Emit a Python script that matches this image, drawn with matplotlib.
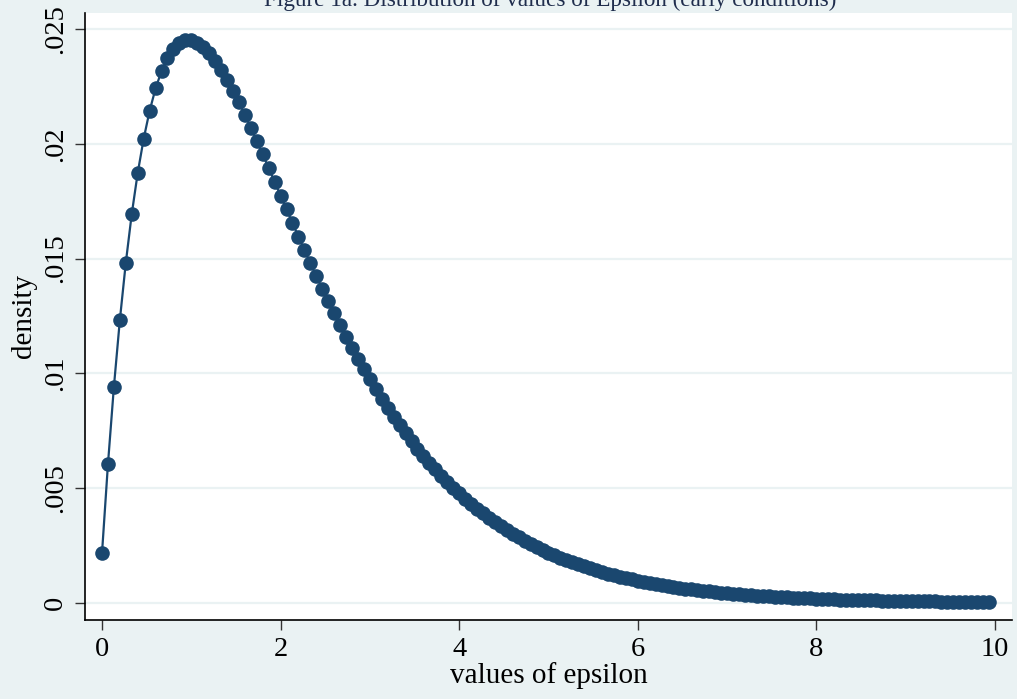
import matplotlib
matplotlib.use("Agg")
import matplotlib.pyplot as plt

# values of epsilon (x) and density (y)
epsilon = [
    0.0, 0.0667, 0.1333, 0.2, 0.2667, 0.3333, 0.4, 0.4667, 0.5333, 0.6,
    0.6667, 0.7333, 0.8, 0.8667, 0.9333, 1.0, 1.0667, 1.1333, 1.2, 1.2667,
    1.3333, 1.4, 1.4667, 1.5333, 1.6, 1.6667, 1.7333, 1.8, 1.8667, 1.9333,
    2.0, 2.0667, 2.1333, 2.2, 2.2667, 2.3333, 2.4, 2.4667, 2.5333, 2.6,
    2.6667, 2.7333, 2.8, 2.8667, 2.9333, 3.0, 3.0667, 3.1333, 3.2, 3.2667,
    3.3333, 3.4, 3.4667, 3.5333, 3.6, 3.6667, 3.7333, 3.8, 3.8667, 3.9333,
    4.0, 4.0667, 4.1333, 4.2, 4.2667, 4.3333, 4.4, 4.4667, 4.5333, 4.6,
    4.6667, 4.7333, 4.8, 4.8667, 4.9333, 5.0, 5.0667, 5.1333, 5.2, 5.2667,
    5.3333, 5.4, 5.4667, 5.5333, 5.6, 5.6667, 5.7333, 5.8, 5.8667, 5.9333,
    6.0, 6.0667, 6.1333, 6.2, 6.2667, 6.3333, 6.4, 6.4667, 6.5333, 6.6,
    6.6667, 6.7333, 6.8, 6.8667, 6.9333, 7.0, 7.0667, 7.1333, 7.2, 7.2667,
    7.3333, 7.4, 7.4667, 7.5333, 7.6, 7.6667, 7.7333, 7.8, 7.8667, 7.9333,
    8.0, 8.0667, 8.1333, 8.2, 8.2667, 8.3333, 8.4, 8.4667, 8.5333, 8.6,
    8.6667, 8.7333, 8.8, 8.8667, 8.9333, 9.0, 9.0667, 9.1333, 9.2, 9.2667,
    9.3333, 9.4, 9.4667, 9.5333, 9.6, 9.6667, 9.7333, 9.8, 9.8667, 9.9333,
]
density = [
    0.002149, 0.006032, 0.009405, 0.012318, 0.014816, 0.016941, 0.018730, 0.020218, 0.021436, 0.022412,
    0.023174, 0.023744, 0.024144, 0.024394, 0.024511, 0.024512, 0.024411, 0.024220, 0.023953, 0.023619,
    0.023229, 0.022791, 0.022313, 0.021802, 0.021264, 0.020704, 0.020128, 0.019541, 0.018945, 0.018345,
    0.017744, 0.017144, 0.016547, 0.015956, 0.015373, 0.014798, 0.014234, 0.013681, 0.013140, 0.012612,
    0.012097, 0.011596, 0.011110, 0.010638, 0.010180, 0.009738, 0.009310, 0.008897, 0.008498, 0.008114,
    0.007744, 0.007388, 0.007046, 0.006717, 0.006401, 0.006099, 0.005808, 0.005529, 0.005263, 0.005008,
    0.004763, 0.004530, 0.004307, 0.004093, 0.003890, 0.003695, 0.003510, 0.003333, 0.003164, 0.003003,
    0.002850, 0.002704, 0.002565, 0.002433, 0.002307, 0.002187, 0.002073, 0.001965, 0.001862, 0.001764,
    0.001671, 0.001582, 0.001498, 0.001419, 0.001343, 0.001271, 0.001203, 0.001139, 0.001077, 0.001019,
    0.000964, 0.000912, 0.000863, 0.000816, 0.000771, 0.000729, 0.000689, 0.000651, 0.000616, 0.000582,
    0.000550, 0.000519, 0.000491, 0.000464, 0.000438, 0.000414, 0.000391, 0.000369, 0.000348, 0.000329,
    0.000310, 0.000293, 0.000277, 0.000261, 0.000246, 0.000232, 0.000219, 0.000207, 0.000195, 0.000184,
    0.000174, 0.000164, 0.000155, 0.000146, 0.000138, 0.000130, 0.000122, 0.000115, 0.000109, 0.000103,
    0.000097, 0.000091, 0.000086, 0.000081, 0.000076, 0.000072, 0.000068, 0.000064, 0.000060, 0.000057,
    0.000053, 0.000050, 0.000047, 0.000045, 0.000042, 0.000040, 0.000037, 0.000035, 0.000033, 0.000031,
]

xticks = [0, 2, 4, 6, 8, 10]
yticks = [0, 0.005, 0.01, 0.015, 0.02, 0.025]
ytick_labels = ["0", ".005", ".01", ".015", ".02", ".025"]

bg = "#eaf2f3"
navy = "#1a476f"
serif = ["Liberation Serif", "DejaVu Serif"]

plt.rcParams["font.family"] = serif

fig = plt.figure(figsize=(10.17, 6.99), dpi=100, facecolor=bg)
ax = fig.add_axes([0.0836, 0.113, 0.9114, 0.869])
ax.set_facecolor("white")

ax.plot(epsilon, density, "-o", color=navy, lw=1.6, ms=10.5,
        markeredgewidth=0, zorder=3)

ax.set_xlim(-0.19, 10.19)
ax.set_ylim(-0.000754, 0.02572)

ax.set_xticks(xticks)
ax.set_yticks(yticks)
ax.set_yticklabels(ytick_labels, rotation=90, va="center")
ax.grid(axis="y", color=bg, lw=1.6, zorder=0)
ax.set_axisbelow(True)

for side in ["top", "right"]:
    ax.spines[side].set_visible(False)
for side in ["left", "bottom"]:
    ax.spines[side].set_color("black")
    ax.spines[side].set_linewidth(1.2)

ax.tick_params(axis="both", length=7.5, width=1.0, color="#333333",
               labelsize=20.5, labelcolor="black", pad=5)

ax.set_xlabel("values of epsilon", fontsize=21, labelpad=0)
ax.set_ylabel("density", fontsize=21, labelpad=4)

# title is centred over the plot region and sits mostly above the canvas
fig.text(0.541, 1 - 6 / 699, "Figure 1a. Distribution of values of Epsilon (early conditions)",
         ha="center", va="baseline", fontsize=16.7, color="#1f2d4d")

fig.savefig("out.png", dpi=100, facecolor=bg)
